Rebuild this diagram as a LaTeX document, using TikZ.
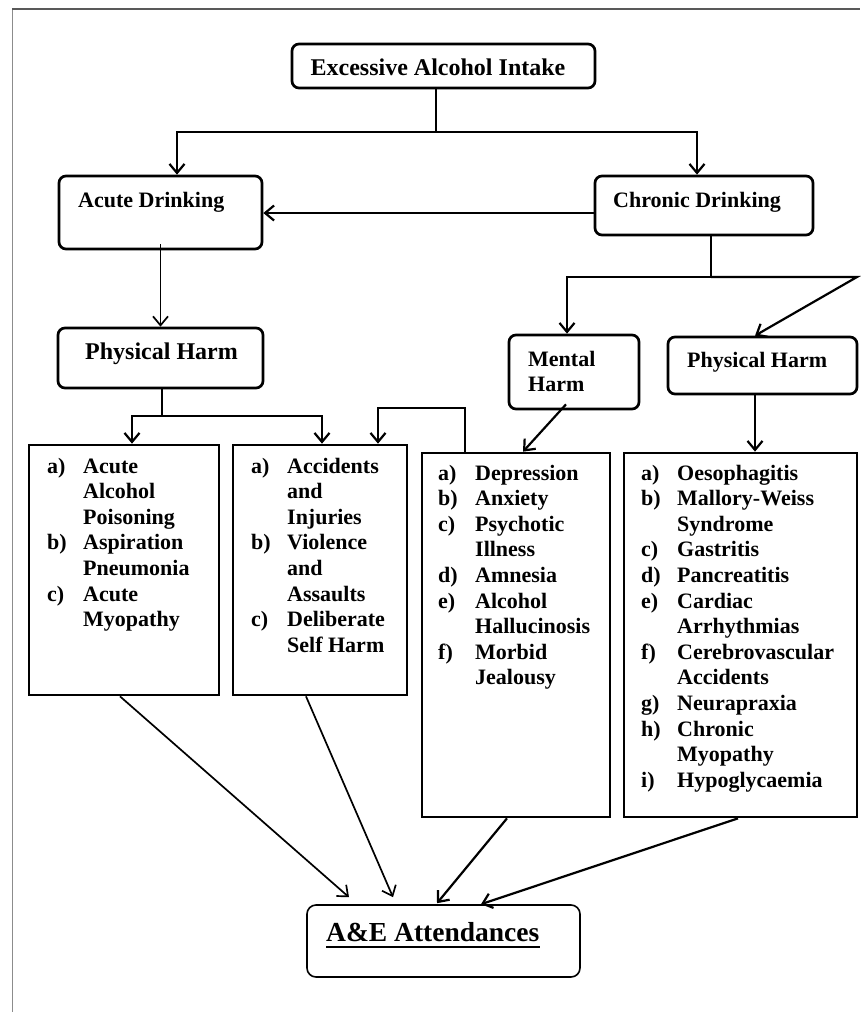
\documentclass[tikz,border=0pt]{standalone}
\usepackage{fontspec}
\setmainfont{Liberation Serif}
\usetikzlibrary{arrows.meta}
\tikzset{
  rbox/.style={draw, line width=2.7pt, rounded corners=7pt, inner sep=0pt},
  sbox/.style={draw, line width=2.7pt, inner sep=0pt},
  arr/.style={line width=2.2pt, -{Straight Barb[length=9pt,width=15pt]}},
  ln/.style={line width=2.2pt},
  txt/.style={inner sep=0pt, anchor=base west, font=\fontsize{22}{25.6}\selectfont\bfseries},
}
\begin{document}
\begin{tikzpicture}[x=1pt,y=-1pt]
\useasboundingbox (0,0) rectangle (860,1012);
% frame
\draw[black!45, line width=1pt] (12,1012) -- (12,9);
\draw[black!65, line width=1.4pt] (12,9) -- (860,9);

% boxes
\node[rbox, minimum width=303pt, minimum height=44pt] (top) at (443.5,66) {};
\node[rbox, minimum width=203pt, minimum height=73pt] (acute) at (160.5,212.5) {};
\node[rbox, minimum width=218pt, minimum height=59pt] (chronic) at (704,205.5) {};
\node[rbox, minimum width=205pt, minimum height=60pt] (phys1) at (160.5,358) {};
\node[rbox, minimum width=130pt, minimum height=74pt] (mental) at (574,372) {};
\node[rbox, minimum width=189pt, minimum height=57pt] (phys2) at (762.5,365.5) {};
\node[sbox, minimum width=190pt, minimum height=250pt] (l1) at (124,570) {};
\node[sbox, minimum width=174pt, minimum height=250pt] (l2) at (320,570) {};
\node[sbox, minimum width=188pt, minimum height=364pt] (l3) at (516,635) {};
\node[sbox, minimum width=233pt, minimum height=364pt] (l4) at (740.5,635) {};
\node[draw, line width=1.6pt, rounded corners=9pt, inner sep=0pt, minimum width=273pt, minimum height=72pt] (ae) at (443.5,941) {};

% texts
\node[txt, font=\fontsize{24}{28}\selectfont\bfseries, anchor=base] (toptxt) at (438,75) {Excessive Alcohol Intake};
\node[txt] (acutetxt) at (78,207) {Acute Drinking};
\node[txt] (chronictxt) at (613,207) {Chronic Drinking};
\node[txt, font=\fontsize{24}{28}\selectfont\bfseries] (phys1txt) at (85,359) {Physical Harm};
\node[txt] (mentaltxt) at (528,366) {\begin{tabular}[t]{@{}l@{}}Mental\\[-0.6pt] Harm\end{tabular}};
\node[txt] (phys2txt) at (687,367) {Physical Harm};
\node[txt] (l1txt) at (47,473) {\begin{tabular}[t]{@{}p{36pt}@{}l@{}}
a) & Acute\\ & Alcohol\\ & Poisoning\\ b) & Aspiration\\ & Pneumonia\\ c) & Acute\\ & Myopathy
\end{tabular}};
\node[txt] (l2txt) at (251,473) {\begin{tabular}[t]{@{}p{36pt}@{}l@{}}
a) & Accidents\\ & and\\ & Injuries\\ b) & Violence\\ & and\\ & Assaults\\ c) & Deliberate\\ & Self Harm
\end{tabular}};
\node[txt] (l3txt) at (438,480) {\begin{tabular}[t]{@{}p{37pt}@{}l@{}}
a) & Depression\\ b) & Anxiety\\ c) & Psychotic\\ & Illness\\ d) & Amnesia\\ e) & Alcohol\\ & Hallucinosis\\ f) & Morbid\\ & Jealousy
\end{tabular}};
\node[txt] (l4txt) at (641,480) {\begin{tabular}[t]{@{}p{36pt}@{}l@{}}
a) & Oesophagitis\\ b) & Mallory-Weiss\\ & Syndrome\\ c) & Gastritis\\ d) & Pancreatitis\\ e) & Cardiac\\ & Arrhythmias\\ f) & Cerebrovascular\\ & Accidents\\ g) & Neurapraxia\\ h) & Chronic\\ & Myopathy\\ i) & Hypoglycaemia
\end{tabular}};
\node[txt, font=\fontsize{27.5}{32}\selectfont\bfseries] (aetxt) at (326,941) {A\&E Attendances\hspace{8pt}};
\draw[line width=1.3pt] ([yshift=-6pt]aetxt.base west) -- ([yshift=-6pt]aetxt.base east);

% junction coordinates
\coordinate (t1) at (436,132);
\coordinate (tl) at (177,132);
\coordinate (tr) at (697,132);
\coordinate (cy) at (0,213);
\coordinate (c1) at (711,277);
\coordinate (cl) at (567,277);
\coordinate (cr) at (857,277);
\coordinate (p2) at (755,0);
\coordinate (p1) at (162,416);
\coordinate (p1l) at (132,416);
\coordinate (p1r) at (322,416);
\coordinate (m1) at (465,408);
\coordinate (m2) at (378,408);

% connectors
\draw[ln] (t1 |- top.south) -- (t1);
\draw[arr] (t1) -- (tl) -- (tl |- acute.north);
\draw[arr] (t1) -- (tr) -- (tr |- chronic.north);
\draw[arr] (chronic.west |- cy) -- (acute.east |- cy);
\draw[arr, line width=1.7pt] ([yshift=6pt]acute.south) -- (phys1.north);
\draw[ln] (c1 |- chronic.south) -- (c1);
\draw[arr] (c1) -- (cl) -- (cl |- mental.north);
\draw[arr] (c1) -- (cr) -- (p2 |- phys2.north);
\draw[arr] (p2 |- phys2.south) -- (p2 |- l4.north);
\draw[arr] ([xshift=-8pt,yshift=6pt]mental.south) -- ([xshift=7pt]l3.north);
\draw[ln] (p1 |- phys1.south) -- (p1);
\draw[arr] (p1) -- (p1l) -- (p1l |- l1.north);
\draw[arr] (p1) -- (p1r) -- (p1r |- l2.north);
\draw[arr] (m1 |- l3.north) -- (m1) -- (m2) -- (m2 |- l2.north);
\draw[arr, line width=1.7pt] ([xshift=-4pt]l1.south) -- ([xshift=-94.5pt,yshift=7pt]ae.north);
\draw[arr, line width=1.7pt] ([xshift=-14pt]l2.south) -- ([xshift=-50.5pt,yshift=7pt]ae.north);
\draw[arr] ([xshift=-9pt]l3.south) -- ([xshift=-6.5pt,yshift=1pt]ae.north);
\draw[arr] ([xshift=-2.5pt]l4.south) -- ([xshift=37.5pt]ae.north);
\end{tikzpicture}
\end{document}
